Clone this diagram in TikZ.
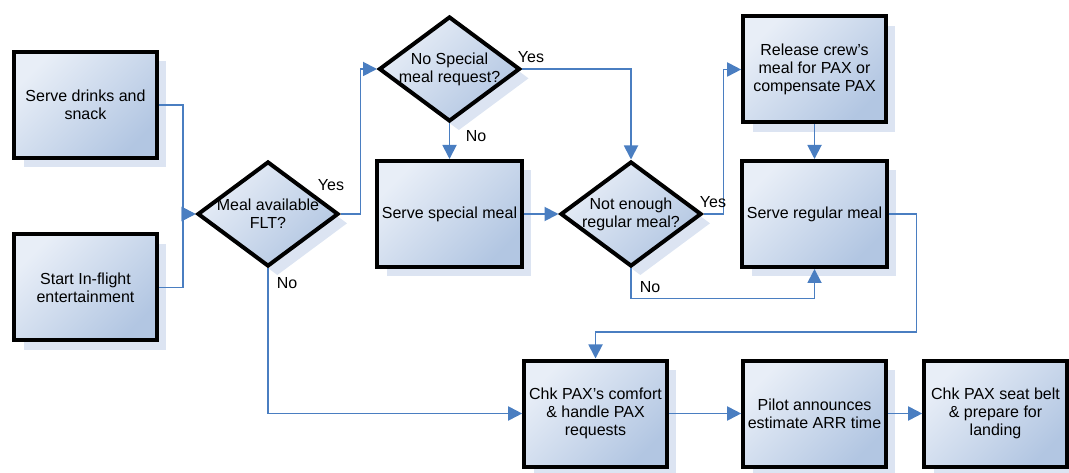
\documentclass[tikz,border=0pt]{standalone}
\usepackage{fontspec}
\setmainfont{Liberation Sans}
\usetikzlibrary{shapes.geometric,shadows,arrows.meta}

\definecolor{flowblue}{RGB}{74,126,193}
\definecolor{boxlight}{RGB}{232,238,247}
\definecolor{boxdark}{RGB}{178,198,226}
\definecolor{shadowblue}{RGB}{220,228,242}

\begin{document}
\begin{tikzpicture}[x=0.75pt, y=-0.75pt, >={Triangle[length=10.5pt,width=10.5pt]},
  every task/.style={draw=black, line width=3pt, top color=boxlight,
    bottom color=boxdark, shading angle=45,
    general shadow={fill=shadowblue, shadow xshift=7pt, shadow yshift=-7pt},
    align=center, font=\fontsize{12}{13.5}\selectfont},
  task/.style={every task, minimum width=107pt, minimum height=79.5pt},
  decision/.style={every task, diamond, aspect=1.343, inner xsep=-6pt,
    inner ysep=0pt, minimum width=105.75pt, minimum height=78.75pt},
  flow/.style={->, draw=flowblue, line width=1.4pt},
  answer/.style={font=\fontsize{12}{13.5}\selectfont, inner sep=1pt}]

\useasboundingbox (0,0) rectangle (1069,473);

\foreach \n/\p/\t in {drinks/{85.5,105}/{Serve drinks and\\snack},
    show/{85.5,287.5}/{Start In-flight\\entertainment},
    special/{449.5,214}/{Serve special meal},
    crew/{814.5,69.5}/{Release crew’s\\meal for PAX or\\compensate PAX},
    regular/{814.5,214}/{Serve regular meal},
    comfort/{595.5,413.5}/{Chk PAX’s comfort\\\& handle PAX\\requests},
    pilot/{814.5,413.5}/{Pilot announces\\estimate ARR time},
    landing/{995.5,413.5}/{Chk PAX seat belt\\\& prepare for\\landing}}
  \node [task] (task-\n) at (\p) {\t};

\node [decision] (check-meal) at (268,214) {Meal available\\FLT?};
\node [decision] (check-special) at (449.5,69) {No Special\\meal request?};
\node [decision] (check-enough) at (631,214) {Not enough\\regular meal?};

% connectors
\draw [flow] (task-drinks.east) -- ++(24,0) |- (check-meal.west);
\draw [flow] (task-show.east) -- ++(24,0) |- (check-meal.west);
\draw [flow] (check-meal.east) -- ++(20,0) |- (check-special.west);
\draw [flow] (check-meal.south) |- (task-comfort.west);
\draw [flow] (check-special.east) -| (check-enough.north);
\draw [flow] (check-special.south) -- (task-special.north);
\draw [flow] (task-special.east) -- (check-enough.west);
\draw [flow] (check-enough.east) -- ++(20,0) |- (task-crew.west);
\draw [flow] (check-enough.south) -- ++(0,30) -| (task-regular.south);
\draw [flow] (task-crew.south) -- (task-regular.north);
\draw [flow] (task-regular.east) -- ++(28,0) -- ++(0,118) -| (task-comfort.north);
\draw [flow] (task-comfort.east) -- (task-pilot.west);
\draw [flow] (task-pilot.east) -- (task-landing.west);

\foreach \n/\t/\p in {meal-yes/Yes/{331,185}, meal-no/No/{287,283},
    special-yes/Yes/{531,57}, special-no/No/{476,136},
    enough-yes/Yes/{713,202}, enough-no/No/{650,287}}
  \node [answer] (\n) at (\p) {\t};

\end{tikzpicture}
\end{document}
